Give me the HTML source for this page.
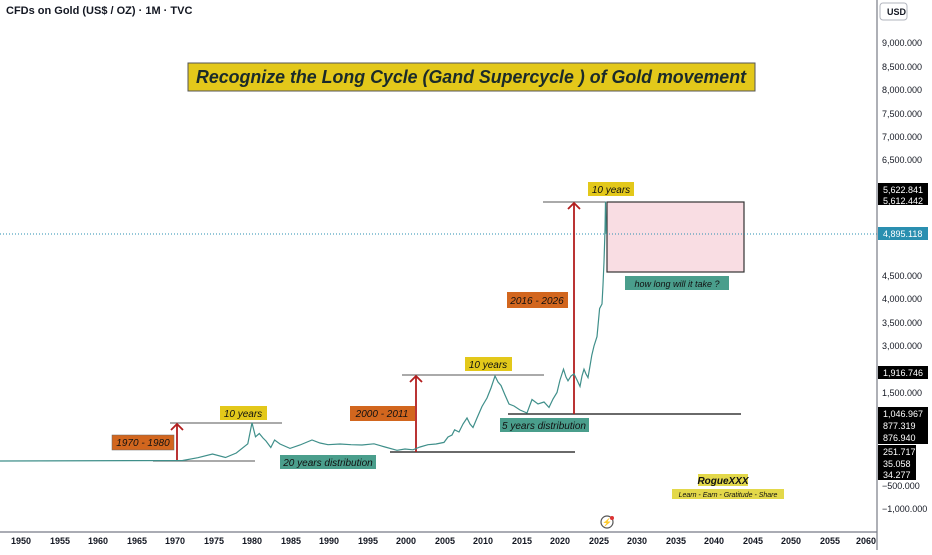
<!DOCTYPE html>
<html><head><meta charset="utf-8"><style>
html,body{margin:0;padding:0;background:#fff;}
body{width:932px;height:550px;overflow:hidden;font-family:"Liberation Sans",sans-serif;}
</style></head><body>
<svg width="932" height="550" viewBox="0 0 932 550" xmlns="http://www.w3.org/2000/svg" font-family="Liberation Sans, sans-serif">
<rect width="932" height="550" fill="#fff"/>
<text x="6" y="14" font-size="11" font-weight="bold" fill="#131722">CFDs on Gold (US$ / OZ) · 1M · TVC</text>
<line x1="877" y1="0" x2="877" y2="550" stroke="#787b86" stroke-width="1.2"/>
<line x1="0" y1="532" x2="877" y2="532" stroke="#787b86" stroke-width="1.2"/>
<rect x="880" y="3" width="27" height="17" rx="3" fill="#fff" stroke="#b2b5be"/>
<text x="887" y="15" font-size="9" font-weight="bold" fill="#131722">USD</text>
<g font-size="9" fill="#131722">
<text x="882" y="46">9,000.000</text>
<text x="882" y="70">8,500.000</text>
<text x="882" y="93">8,000.000</text>
<text x="882" y="117">7,500.000</text>
<text x="882" y="140">7,000.000</text>
<text x="882" y="163">6,500.000</text>
<text x="882" y="279">4,500.000</text>
<text x="882" y="302">4,000.000</text>
<text x="882" y="326">3,500.000</text>
<text x="882" y="349">3,000.000</text>
<text x="882" y="396">1,500.000</text>
<text x="882" y="489">−500.000</text>
<text x="882" y="512">−1,000.000</text>
</g>
<g font-size="9" fill="#fff">
<rect x="878" y="183" width="50" height="22" fill="#000"/>
<text x="883" y="193">5,622.841</text><text x="883" y="204">5,612.442</text>
<rect x="878" y="227" width="50" height="13" fill="#2a8fb0"/>
<text x="883" y="237">4,895.118</text>
<rect x="878" y="366" width="50" height="13" fill="#000"/>
<text x="883" y="376">1,916.746</text>
<rect x="878" y="407" width="50" height="37" fill="#000"/>
<text x="883" y="417">1,046.967</text><text x="883" y="429">877.319</text><text x="883" y="441">876.940</text>
<rect x="878" y="445" width="38" height="35" fill="#000"/>
<text x="883" y="455">251.717</text><text x="883" y="467">35.058</text><text x="883" y="478">34.277</text>
</g>
<g font-size="9" font-weight="bold" fill="#131722" text-anchor="middle">
<text x="21" y="544">1950</text><text x="60" y="544">1955</text><text x="98" y="544">1960</text><text x="137" y="544">1965</text><text x="175" y="544">1970</text><text x="214" y="544">1975</text><text x="252" y="544">1980</text><text x="291" y="544">1985</text><text x="329" y="544">1990</text><text x="368" y="544">1995</text><text x="406" y="544">2000</text><text x="445" y="544">2005</text><text x="483" y="544">2010</text><text x="522" y="544">2015</text><text x="560" y="544">2020</text><text x="599" y="544">2025</text><text x="637" y="544">2030</text><text x="676" y="544">2035</text><text x="714" y="544">2040</text><text x="753" y="544">2045</text><text x="791" y="544">2050</text><text x="830" y="544">2055</text><text x="866" y="544">2060</text>
</g>
<rect x="188" y="63" width="567" height="28" fill="#e3c81a" stroke="#555" stroke-width="1"/>
<text x="471" y="83" font-size="18" font-weight="bold" font-style="italic" fill="#1a2a2a" text-anchor="middle" textLength="550" lengthAdjust="spacingAndGlyphs">Recognize the Long Cycle (Gand Supercycle ) of Gold movement</text>
<rect x="607" y="202" width="137" height="70" fill="#f9dde3" stroke="#333" stroke-width="1.2"/>
<line x1="0" y1="234" x2="877" y2="234" stroke="#2a8fb0" stroke-width="1" stroke-dasharray="1,2"/>
<g stroke-width="1.3">
<line x1="153" y1="461" x2="255" y2="461" stroke="#777"/>
<line x1="170" y1="423" x2="282" y2="423" stroke="#777"/>
<line x1="402" y1="375" x2="544" y2="375" stroke="#777"/>
<line x1="390" y1="452" x2="575" y2="452" stroke="#111"/>
<line x1="508" y1="414" x2="741" y2="414" stroke="#111"/>
<line x1="543" y1="202" x2="605" y2="202" stroke="#777"/>
</g>
<g stroke="#b21e1e" stroke-width="1.8" fill="none">
<line x1="177" y1="461" x2="177" y2="424"/><polyline points="171,430 177,424 183,430"/>
<line x1="416" y1="452" x2="416" y2="376"/><polyline points="410,382 416,376 422,382"/>
<line x1="574" y1="414" x2="574" y2="203"/><polyline points="568,209 574,203 580,209"/>
</g>
<polyline fill="none" stroke="#3f8f8a" stroke-width="1.2" points="0,461 182.6,460.5 197.9,457.7 212.5,454 225.5,457.5 236.3,453 247.8,443.8 252,422.8 255.5,436.8 259.3,433.5 263,438 266,441 270.8,447.5 274.6,440 280,444 290,448.4 300,445 312,440 320,443 328,444.7 340,444 351,444.7 362,445 374,443.8 385,447 397,450.3 405,449 413,449.8 420,447 428,444.7 436,444 444,442.4 448,437 452,435 454.6,429.8 459,432 463,424 467,418 470,424 473,427.5 477,418 482,406.5 487,398 491,388 495,376 498,382 501,385.5 505,395 509,404 514,406 520,410 527,413 532,399.5 538,404 544,402 549,407.4 553,399 557,392.5 560,380 563.5,369.2 566,377 568,380.8 571,376 574,373.9 577,380 580,386.4 582,376 584,369.2 586,374 588,377.6 590,366 591.8,355.2 594,346 597,336.6 599.6,308.6 602,304 603,285 604,262 605,230 605.5,201.5 606.3,234"/>
<g font-size="10" font-style="italic" fill="#111">
<rect x="112" y="435" width="62" height="15" fill="#d2661e" stroke="#666" stroke-width="0.5"/><text x="143" y="446" text-anchor="middle">1970 - 1980</text>
<rect x="220" y="406" width="47" height="14" fill="#e3c81a"/><text x="243" y="417" text-anchor="middle">10 years</text>
<rect x="280" y="455" width="96" height="14" fill="#4a9e8c"/><text x="328" y="466" text-anchor="middle">20 years distribution</text>
<rect x="350" y="406" width="65" height="15" fill="#d2661e"/><text x="382" y="417" text-anchor="middle">2000 - 2011</text>
<rect x="465" y="357" width="47" height="14" fill="#e3c81a"/><text x="488" y="368" text-anchor="middle">10 years</text>
<rect x="500" y="418" width="89" height="14" fill="#4a9e8c"/><text x="544" y="429" text-anchor="middle">5 years distribution</text>
<rect x="507" y="292" width="61" height="16" fill="#d2661e"/><text x="537" y="304" text-anchor="middle">2016 - 2026</text>
<rect x="588" y="182" width="46" height="14" fill="#e3c81a"/><text x="611" y="193" text-anchor="middle">10 years</text>
<rect x="625" y="276" width="104" height="14" fill="#4a9e8c"/><text x="677" y="287" text-anchor="middle" font-size="9">how long will it take  ?</text>
<rect x="698" y="474" width="50" height="12" fill="#e3d84a"/><text x="723" y="484" text-anchor="middle" font-weight="bold">RogueXXX</text>
<rect x="672" y="489" width="112" height="10" fill="#e3d84a"/><text x="728" y="497" text-anchor="middle" font-size="7">Learn - Earn - Gratitude - Share</text>
</g>
<circle cx="607" cy="522" r="6" fill="none" stroke="#555" stroke-width="1.2"/>
<text x="607" y="525" font-size="8" text-anchor="middle" fill="#555">⚡</text>
<circle cx="612" cy="518" r="2" fill="#d33"/>
</svg>
</body></html>
